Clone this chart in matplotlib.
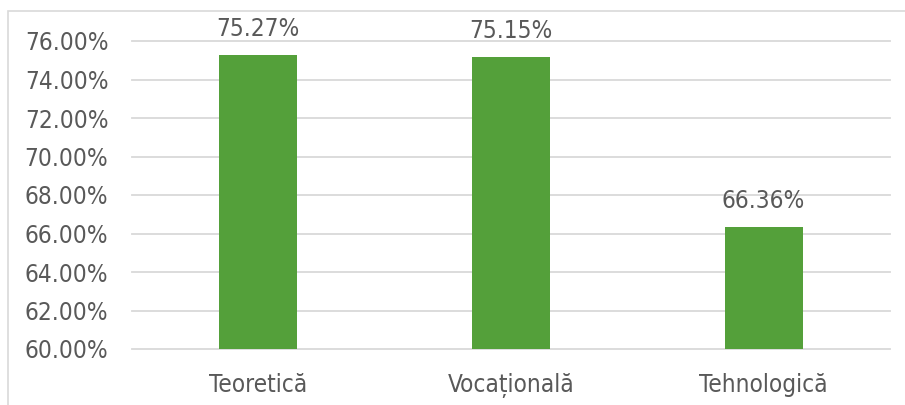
import matplotlib.pyplot as plt
from matplotlib.patches import Rectangle

# data
categories = ['Teoretică', 'Vocațională', 'Tehnologică']
values = [75.27, 75.15, 66.36]
yticks = [60, 62, 64, 66, 68, 70, 72, 74, 76]

text_color = '#595959'
bar_color = '#54A03A'
grid_color = '#D9D9D9'

fig = plt.figure(figsize=(9.05, 4.05), dpi=100)
ax = fig.add_axes([132 / 905, 1 - 349 / 405, 758 / 905, 308 / 405])

# outer chart border (right/bottom edges fall outside the image)
fig.patches.append(Rectangle((8 / 905, -0.1), 1.2, 1 - 11 / 405 + 0.1,
                             transform=fig.transFigure, fill=False,
                             edgecolor=grid_color, linewidth=1.2))

x = list(range(len(categories)))
bars = ax.bar(x, values, width=0.31, bottom=0, color=bar_color, zorder=3)

ax.set_xlim(-0.5, len(categories) - 0.5)
ax.set_ylim(60, 76)
ax.set_yticks(yticks)
ax.set_yticklabels([f'{v:.2f}%' for v in yticks])
ax.set_xticks(x)
ax.set_xticklabels(categories)

font = dict(fontsize=17.5, color=text_color, fontstretch='condensed')
for lab in ax.get_yticklabels() + ax.get_xticklabels():
    lab.set_fontsize(17.5)
    lab.set_color(text_color)
    lab.set_fontstretch('condensed')

ax.tick_params(axis='both', length=0)
ax.tick_params(axis='y', pad=17)
ax.tick_params(axis='x', pad=17)

ax.grid(axis='y', color=grid_color, linewidth=1.3, zorder=0)
for line in ax.get_ygridlines():
    line.set_clip_on(False)
for s in ax.spines.values():
    s.set_visible(False)

for xi, v in zip(x, values):
    ax.annotate(f'{v:.2f}%', (xi, v), xytext=(0, 10), textcoords='offset points',
                ha='center', va='bottom', **font)

fig.savefig('out.png', dpi=100)
